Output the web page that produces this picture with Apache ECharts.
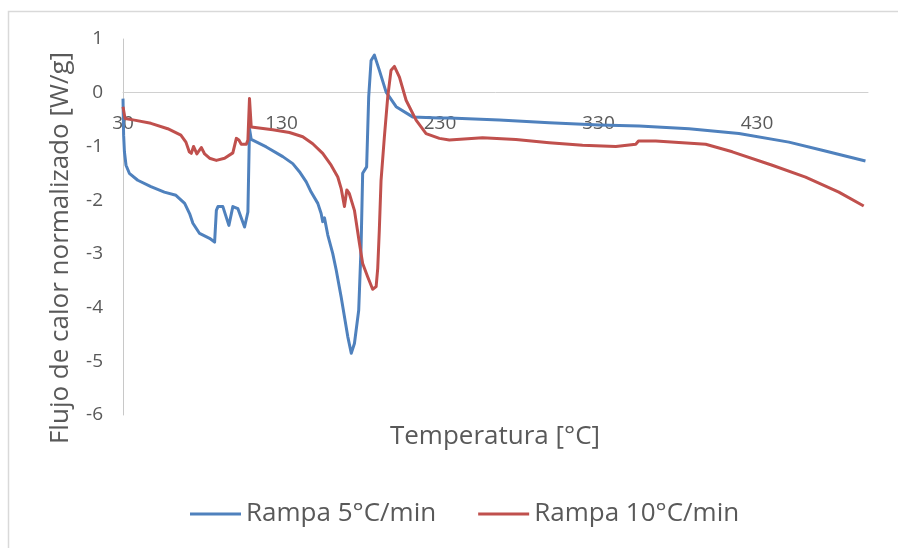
<!DOCTYPE html>
<html>
<head>
<meta charset="utf-8">
<script src="https://cdn.jsdelivr.net/npm/echarts@6/dist/echarts.min.js"></script>
<style>
html,body{margin:0;padding:0;background:#fff;}
#chart{width:898px;height:548px;}
</style>
</head>
<body>
<div id="chart"></div>
<script>
// Data
const seriesNames = ['Rampa 5°C/min', 'Rampa 10°C/min'];
const xTicks = [30, 130, 230, 330, 430];

const temp5 = [30, 30.4, 30.9, 31.9, 34.0, 39.3, 47.6, 56.1, 63.4, 68.9, 72.0, 74.1, 78.3, 84.6, 87.8, 88.9, 89.9, 93.0, 96.8, 99.3, 102.5, 106.7, 108.8, 109.8, 110.9, 120.4, 130.8, 137.1, 141.3, 145.6, 148.7, 152.9, 155.0, 156.0, 157.1, 159.2, 162.3, 164.5, 167.6, 171.8, 174.0, 176.0, 178.7, 180.2, 181.2, 183.7, 185.0, 186.5, 188.6, 191.7, 196.0, 202.3, 212.7, 229.6, 235.9, 267.4, 298.9, 330.4, 355.6, 387.1, 418.6, 450.1, 471.1, 498.4];
const flux5 = [-0.11, -0.79, -1.10, -1.35, -1.50, -1.63, -1.75, -1.85, -1.91, -2.06, -2.25, -2.43, -2.62, -2.71, -2.78, -2.19, -2.12, -2.12, -2.47, -2.12, -2.16, -2.50, -2.22, -0.67, -0.87, -1.01, -1.19, -1.32, -1.47, -1.66, -1.85, -2.06, -2.25, -2.40, -2.33, -2.65, -2.99, -3.30, -3.80, -4.54, -4.85, -4.67, -4.05, -2.87, -1.50, -1.38, -0.08, 0.60, 0.70, 0.42, 0.01, -0.26, -0.45, -0.47, -0.47, -0.51, -0.56, -0.60, -0.62, -0.67, -0.76, -0.92, -1.07, -1.27];

const temp10 = [30, 31.3, 37.2, 47.6, 58.2, 66.5, 69.7, 71.8, 73.1, 74.5, 76.6, 79.4, 81.5, 84.6, 88.9, 94.1, 99.3, 100.4, 101.5, 103.1, 104.6, 107.8, 108.8, 109.8, 110.9, 111.9, 124.5, 135.0, 143.4, 149.7, 156.0, 161.3, 165.5, 167.6, 169.7, 171.2, 172.8, 176.0, 179.2, 181.2, 184.4, 187.5, 189.7, 190.7, 191.7, 192.8, 194.9, 197.0, 199.1, 201.2, 204.4, 208.6, 214.9, 221.2, 229.6, 235.9, 256.8, 277.9, 298.9, 319.9, 340.9, 353.5, 355.2, 366.1, 397.6, 414.4, 439.6, 460.6, 481.6, 497.3];
const flux10 = [-0.26, -0.48, -0.51, -0.57, -0.67, -0.79, -0.92, -1.10, -1.13, -1.00, -1.14, -1.02, -1.14, -1.22, -1.26, -1.22, -1.12, -1.10, -0.85, -0.88, -0.96, -0.96, -0.88, -0.11, -0.64, -0.64, -0.69, -0.74, -0.82, -0.95, -1.13, -1.35, -1.57, -1.78, -2.12, -1.81, -1.88, -2.19, -2.81, -3.18, -3.43, -3.66, -3.61, -3.27, -2.56, -1.63, -0.82, -0.08, 0.42, 0.49, 0.29, -0.14, -0.51, -0.76, -0.85, -0.88, -0.84, -0.87, -0.93, -0.98, -1.00, -0.96, -0.90, -0.90, -0.96, -1.10, -1.35, -1.57, -1.85, -2.11];

const yMin = -6, yMax = 1;
const zip = (xs, ys) => xs.map((x, i) => [x, ys[i]]);

const FONT = '"Open Sans", "DejaVu Sans", sans-serif';
const TXT = '#595959';
const W = 898, H = 548;
const G = {left: 123, right: 30, top: 39, bottom: 133};
const plotH = H - G.top - G.bottom;
// move the horizontal axis (line + labels) up to the y = 0 crossing, as in the source chart
const xAxisOffset = -plotH * (0 - yMin) / (yMax - yMin);

const chart = echarts.init(document.getElementById('chart'), null, {renderer: 'canvas'});
chart.setOption({
  animation: false,
  backgroundColor: '#ffffff',
  grid: Object.assign({outerBoundsMode: 'none'}, G),
  xAxis: {
    type: 'value', min: 30, max: 500,
    offset: xAxisOffset,
    axisLine: {show: true, onZero: false, lineStyle: {color: '#d0d0d0', width: 1}},
    axisTick: {show: false},
    splitLine: {show: false},
    axisLabel: {customValues: xTicks, margin: 21, color: TXT, fontSize: 19, fontFamily: FONT}
  },
  yAxis: {
    type: 'value', min: yMin, max: yMax, interval: 1,
    axisLine: {show: true, lineStyle: {color: '#c8c8c8', width: 1}},
    axisTick: {show: false},
    splitLine: {show: false},
    axisLabel: {margin: 20, color: TXT, fontSize: 19, fontFamily: FONT}
  },
  legend: {
    left: 185, top: 496,
    icon: 'rect', itemWidth: 51, itemHeight: 3, itemGap: 42,
    textStyle: {color: TXT, fontSize: 26, fontFamily: FONT},
    data: seriesNames
  },
  graphic: [
    {type: 'rect', silent: true, shape: {x: 8.5, y: 11.5, width: 900, height: 560},
     style: {fill: 'none', stroke: '#d9d9d9', lineWidth: 1.5}},
    {type: 'text', x: 61, y: 248, rotation: Math.PI / 2,
     style: {text: 'Flujo de calor normalizado [W/g]', fill: TXT, font: '26px ' + FONT, textAlign: 'center', textVerticalAlign: 'middle'}},
    {type: 'text', x: 495, y: 437,
     style: {text: 'Temperatura [°C]', fill: TXT, font: '26px ' + FONT, textAlign: 'center', textVerticalAlign: 'middle'}}
  ],
  series: [
    {name: seriesNames[0], type: 'line', data: zip(temp5, flux5), showSymbol: false, symbol: 'none',
     lineStyle: {color: '#4F81BD', width: 3, join: 'round'}, itemStyle: {color: '#4F81BD'}},
    {name: seriesNames[1], type: 'line', data: zip(temp10, flux10), showSymbol: false, symbol: 'none',
     lineStyle: {color: '#C0504D', width: 3, join: 'round'}, itemStyle: {color: '#C0504D'}}
  ]
});
</script>
</body>
</html>
